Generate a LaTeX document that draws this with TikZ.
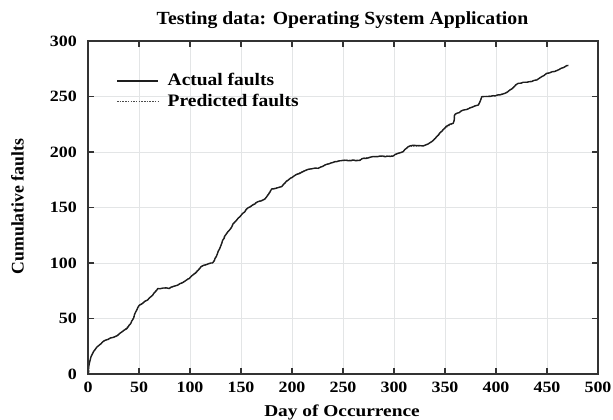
\documentclass[tikz,border=0pt]{standalone}
\usepackage{fontspec}
\setmainfont{Liberation Serif}
\newfontfamily\titlefont{Liberation Serif}[FakeStretch=1.065]
\newfontfamily\legfont{Liberation Serif}[FakeStretch=1.11]
\newfontfamily\tickfont{Liberation Serif}[FakeStretch=1.14]
\newfontfamily\xlblfont{Liberation Serif}[FakeStretch=1.17]
\usetikzlibrary{decorations.pathmorphing}
\definecolor{gridgray}{HTML}{E3E5E6}
\definecolor{axisgray}{HTML}{333333}
\definecolor{curveblack}{HTML}{1E1E1E}
\tikzset{
  ticklbl/.style={font=\tickfont\bfseries\fontsize{15.8}{18}\selectfont, inner sep=0pt},
  titlelbl/.style={font=\titlefont\bfseries\fontsize{18.6}{22}\selectfont, inner sep=0pt},
  axislbl/.style={font=\xlblfont\bfseries\fontsize{16.6}{20}\selectfont, inner sep=0pt},
  ylbl/.style={font=\bfseries\fontsize{17.8}{20}\selectfont, inner sep=0pt},
  leglbl/.style={font=\legfont\bfseries\fontsize{17.6}{20}\selectfont, inner sep=0pt},
  gridline/.style={gridgray, line width=1bp},
  axisline/.style={axisgray, line width=1.4bp},
  tickline/.style={axisgray, line width=1.2bp},
  actualcurve/.style={curveblack, line width=1.4bp, line join=round,
    decorate, decoration={random steps, segment length=2.5bp, amplitude=0.45bp}},
  predcurve/.style={curveblack!75, line width=0.7bp, dash pattern=on 1.5bp off 1bp},
}
\begin{document}
\begin{tikzpicture}[x=1bp,y=1bp]
\useasboundingbox (0,0) rectangle (613,419);
% title and labels
\node[titlelbl, anchor=base] (title) at (342.5,394) {Testing data: Operating System Application};
\node[axislbl, anchor=base] (xlabel) at (342,2.5) {Day of Occurrence};
\node[ylbl, rotate=90] (ylabel) at (17.5,212.5) {Cumulative faults};
\begin{scope}[shift={(88,45)}, x=1.02bp, y=1.11bp]
  \coordinate (O) at (0,0);
  \coordinate (TR) at (500,300);
  % grid
  \foreach \gx in {50,100,...,450} \draw[gridline] (\gx,0) -- (\gx,300);
  \foreach \gy in {50,100,...,250} \draw[gridline] (0,\gy) -- (500,\gy);
  % ticks
  \foreach \gx in {50,100,...,450} {
    \draw[tickline] (\gx,0) -- ++(0,6bp);
    \draw[tickline] (\gx,300) -- ++(0,-6bp);
  }
  \foreach \gy in {50,100,...,250} {
    \draw[tickline] (0,\gy) -- ++(6bp,0);
    \draw[tickline] (500,\gy) -- ++(-6bp,0);
  }
  % tick labels
  \foreach \gx in {0,50,...,500} \node[ticklbl] (xt\gx) at (\gx,-12.2) {\gx};
  \foreach \gy in {0,50,...,300} \node[ticklbl, anchor=east] (yt\gy) at ([xshift=-11bp]0,\gy) {\gy};
  % predicted curve
  \draw[predcurve] plot[smooth, tension=0.3] coordinates {
    (0,0) (0.7,2.5) (1.3,10) (2.5,14.5) (4.6,19) (7,22.5) (11,26.3) (17.6,30.8) (27.5,34.3)
    (35.6,39.8) (42,46) (45.4,53) (50.3,62) (58.5,67) (63.4,71.3) (68.3,76.8) (79.7,77.4)
    (87.9,80.3) (99.3,86.3) (110.8,96.5) (122,100.3) (127,108.5) (133.7,123.5) (139,130.3)
    (145.8,139) (157,149.6) (165.4,155) (173.5,158) (180,166.5) (189.9,169) (196.4,174.6)
    (204.6,180.1) (216,184.6) (225.8,185.6) (234,189) (243.8,191.5) (250.3,192.7) (266.7,192.8)
    (270,194.5) (281.4,196) (299.3,196.7) (304,199) (309,200.6) (314,204.6) (328.8,205.8)
    (337,209.5) (348,220.2) (358,226) (359.8,233.6) (368,237.6) (382.7,242.5) (386,249.6)
    (399,250.8) (408.8,253.2) (413.7,256) (421.9,261.7) (430,263) (440,265.1) (449.7,270.7)
    (459.5,273.5) (469.3,277.6) (471,278.2)};
  % actual curve
  \draw[actualcurve] (0,0) -- (0.7,2) -- (1.3,9.6) -- (2.5,14) -- (4.6,18.6) -- (7,22) -- (11,26)
    -- (14,28.5) -- (17.6,30.6) -- (22,32.5) -- (27.5,34) -- (31,36.5) -- (35.6,39.6) -- (39,42)
    -- (42,45.6) -- (45.4,53) -- (48,58) -- (50.3,62) -- (54,64) -- (58.5,66.7) -- (63.4,71)
    -- (66,74) -- (68.3,77) -- (74,77.5) -- (79.7,77) -- (84,79) -- (87.9,80) -- (94,83)
    -- (99.3,86) -- (104,90) -- (110.8,96.7) -- (116,98.5) -- (122,100) -- (123.8,102)
    -- (127,108.7) -- (130.4,116) -- (133.7,123.7) -- (137,128) -- (139,130) -- (142,135)
    -- (145.8,138.7) -- (150,143) -- (157,149.8) -- (161,152) -- (165.4,154.7) -- (170,156)
    -- (173.5,157.7) -- (177,162) -- (180,166.7) -- (185,167.5) -- (189.9,168.8) -- (193,172)
    -- (196.4,174.8) -- (200,177) -- (204.6,179.9) -- (210,182) -- (216,184.4) -- (220,185)
    -- (225.8,185.3) -- (230,187) -- (234,188.9) -- (240,190.5) -- (243.8,191.3) -- (250.3,192.5)
    -- (266.7,192.5) -- (270,194.3) -- (281.4,195.8) -- (299.3,196.4) -- (304,198.8)
    -- (309,200.3) -- (314,204.8) -- (320,206) -- (328.8,205.5) -- (333,207) -- (337,209.3)
    -- (342,214) -- (348,220) -- (353,224) -- (358,225.8) -- (359.8,233.9) -- (364,235.5)
    -- (368,237.8) -- (372,238.5) -- (377,240.5) -- (382.7,242.3) -- (384.3,245.3) -- (386,249.8)
    -- (392,250) -- (399,250.5) -- (404,251.5) -- (408.8,252.9) -- (413.7,255.9) -- (418,259)
    -- (421.9,261.9) -- (430,262.8) -- (435,263.5) -- (440,264.9) -- (445,268) -- (449.7,270.9)
    -- (455,272.3) -- (459.5,273.3) -- (464,275.5) -- (469.3,277.8) -- (471,278);
  % frame
  \draw[axisline] (O) rectangle (TR);
\end{scope}
% legend
\coordinate (la1) at (117,338);
\coordinate (la2) at (158,338);
\coordinate (lp1) at (117,318);
\coordinate (lp2) at (158,318);
\draw[curveblack, line width=1.2bp] (la1) -- (la2);
\draw[curveblack!80, line width=0.8bp, dash pattern=on 1.5bp off 1.2bp] (lp1) -- (lp2);
\node[leglbl, anchor=base west] (legA) at (167.5,334) {Actual faults};
\node[leglbl, anchor=base west] (legP) at (167.5,312.3) {Predicted faults};
\end{tikzpicture}
\end{document}
